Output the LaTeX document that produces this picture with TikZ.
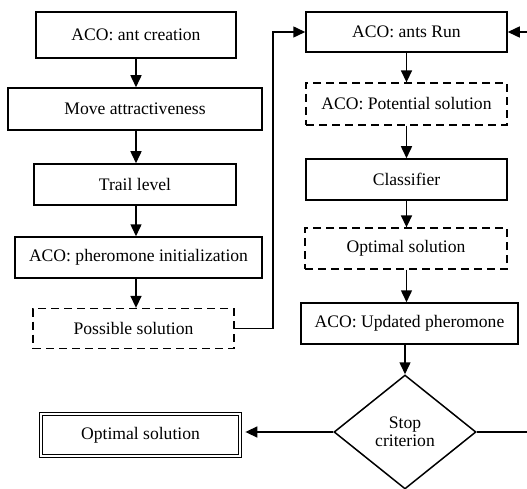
\documentclass[tikz,border=0pt]{standalone}
\usepackage{fontspec}
\setmainfont{Liberation Serif}
\usetikzlibrary{shapes.geometric,arrows.meta,calc}
\begin{document}
\begin{tikzpicture}[x=1pt,y=-1pt,
  every node/.style={font=\fontsize{17.6}{19}\selectfont, inner sep=0pt},
  box/.style={draw, line width=1.5pt, rectangle},
  dbox/.style={draw, line width=1.3pt, rectangle, dash pattern=on 8pt off 5pt},
  final/.style={draw, line width=0.8pt, double, double distance=2pt, rectangle},
  decision/.style={draw, line width=1.5pt, diamond, aspect=1.25, align=center},
  arr/.style={line width=1.5pt, -{Triangle[length=12pt,width=11pt]}},
  ln/.style={line width=1.5pt}]
\useasboundingbox (0,0) rectangle (527,489);
% left column
\node[box, minimum width=200, minimum height=46] (n1) at (136,35) {ACO: ant creation};
\node[box, minimum width=254, minimum height=42] (n2) at (135,109) {Move attractiveness};
\node[box, minimum width=202, minimum height=41] (n3) at (135,184.5) {Trail level};
\node[box, minimum width=247, minimum height=41] (n4) at (138.5,257.5) {ACO: pheromone initialization};
\node[dbox, minimum width=201, minimum height=40] (n5) at (133.5,328.5) {Possible solution};
% right column
\node[box, minimum width=201, minimum height=40] (r1) at (406.5,32) {ACO: ants Run};
\node[dbox, minimum width=201, minimum height=42] (r2) at (406.5,104) {ACO: Potential solution};
\node[box, minimum width=201, minimum height=41] (r3) at (406.5,179.5) {Classifier};
\node[dbox, minimum width=202, minimum height=41] (r4) at (406,248.5) {Optimal solution};
\node[box, minimum width=217, minimum height=41] (r5) at (409.5,323.5) {ACO: Updated pheromone};
\node[decision, minimum width=142, minimum height=114] (d) at (405,432) {Stop\\[-1pt]criterion};
\node[final, minimum width=199, minimum height=42] (f) at (140.5,435) {Optimal solution};
\coordinate (c1) at (273,0);
\coordinate (c2) at (545,0);
% arrows
\draw[arr] (n1) -- (n1 |- n2.north);
\draw[arr] (n1 |- n2.south) -- (n1 |- n3.north);
\draw[arr] (n1 |- n3.south) -- (n1 |- n4.north);
\draw[arr] (n1 |- n4.south) -- (n1 |- n5.north);
\draw[arr] (n5.east) -- (n5.east -| c1) -- (c1 |- r1.west) -- (r1.west);
\draw[arr] (r1) -- (r1 |- r2.north);
\draw[arr] (r1 |- r2.south) -- (r1 |- r3.north);
\draw[arr] (r1 |- r3.south) -- (r1 |- r4.north);
\draw[arr] (r1 |- r4.south) -- (r1 |- r5.north);
\draw[arr] (d.north |- r5.south) -- (d.north);
\draw[arr] (d.west) -- ($(d.west -| f.east)+(5,0)$);
\draw[arr] (d.east) -- (d.east -| c2) -- (c2 |- r1.east) -- (r1.east);
\end{tikzpicture}
\end{document}
